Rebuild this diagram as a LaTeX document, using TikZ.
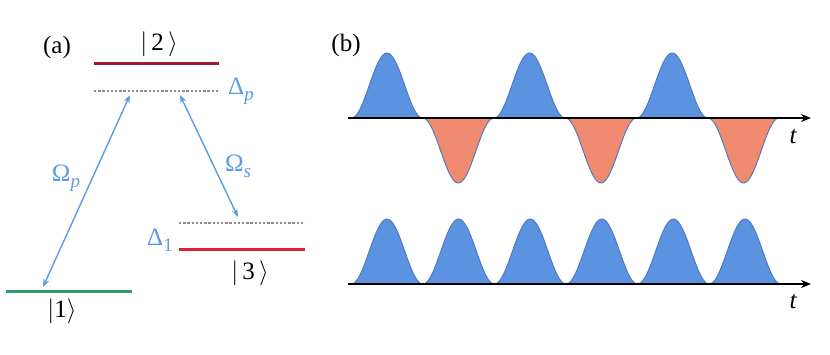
\documentclass[tikz,border=0pt]{standalone}
\usepackage{fix-cm}
\usepackage{fontspec}
\setmainfont{Liberation Serif}
\usetikzlibrary{arrows.meta}
\definecolor{lblue}{HTML}{5B9BE8}
\definecolor{pblue}{HTML}{5B93E0}
\definecolor{pedge}{HTML}{4A78C0}
\definecolor{porange}{HTML}{F08A70}
\definecolor{dred}{HTML}{A01830}
\definecolor{cred}{HTML}{E0203A}
\definecolor{lgreen}{HTML}{2E9E6B}
\definecolor{dotgray}{HTML}{8C8C8C}
\begin{document}
\begin{tikzpicture}[x=1pt,y=-1pt,
  every node/.style={font=\fontsize{25}{29}\selectfont, inner sep=0pt},
  level/.style={line width=3pt},
  virt/.style={dotgray, line width=2.8pt, dash pattern=on 2.4pt off 1.8pt},
  trans/.style={lblue, line width=1.4pt, {Stealth[length=8pt,width=6pt]}-{Stealth[length=8pt,width=6pt]}},
  bluetext/.style={text=lblue},
  axisline/.style={black, line width=1.8pt, -{Stealth[length=10pt,width=8pt]}},
  pulsepos/.style={fill=pblue, draw=pedge, line width=0.9pt},
  pulseneg/.style={fill=porange, draw=pedge, line width=0.9pt}]
\useasboundingbox (0,0) rectangle (830,354);

% ---------- panel (a) ----------
\node (la) at (57,47) {(a)};
\draw[level, dred] (94,63) coordinate (e2l) -- (219,63) coordinate (e2r);
\draw[virt] (94,91) coordinate (v2l) -- (220,91) coordinate (v2r);
\draw[virt] (179,223) coordinate (v3l) -- (305,223) coordinate (v3r);
\draw[level, cred] (179,249) coordinate (e3l) -- (305,249) coordinate (e3r);
\draw[level, lgreen] (6,291) coordinate (e1l) -- (132,291) coordinate (e1r);

\node (k2) at (159,44) {$\Bigl|$\,2\,$\Bigr\rangle$};
\node (k3) at (250,273) {$\Bigl|$\,3\,$\Bigr\rangle$};
\node (k1) at (62,311) {$\Bigl|$1$\Bigr\rangle$};

\node[bluetext] (dp) at (241,91) {Δ\raisebox{-6pt}{\fontsize{19}{19}\selectfont\itshape p}};
\node[bluetext] (d1) at (160,240) {Δ\raisebox{-6pt}{\fontsize{19}{19}\selectfont 1}};
\node[bluetext] (op) at (66,178) {Ω\raisebox{-6pt}{\fontsize{19}{19}\selectfont\itshape p}};
\node[bluetext] (os) at (238,166) {Ω\raisebox{-6pt}{\fontsize{19}{19}\selectfont\itshape s}};

\coordinate (a1) at (43,287);
\coordinate (a2) at (130,95);
\coordinate (b1) at (180,95);
\coordinate (b2) at (238,217);
\draw[trans] (a1) -- (a2);
\draw[trans] (b1) -- (b2);

% ---------- panel (b) ----------
\node (lb) at (346,45) {(b)};

% top row: alternating pulses
\foreach \c/\s in {387/1,458.3/-1,529.6/1,600.9/-1,672.2/1,743.5/-1}{
  \ifnum\s=1
    \filldraw[pulsepos] plot[domain=\c-35.6:\c+35.6, samples=50, smooth] (\x,{118-65*(0.5+0.5*cos(360*(\x-\c)/71.2))});
  \else
    \filldraw[pulseneg] plot[domain=\c-35.6:\c+35.6, samples=50, smooth] (\x,{118+65*(0.5+0.5*cos(360*(\x-\c)/71.2))});
  \fi
}
\coordinate (ax1s) at (348,118);
\coordinate (ax1e) at (811,118);
\draw[axisline] (ax1s) -- (ax1e);
\node (t1) at (793,137) {\itshape t};

% bottom row
\foreach \c in {387,458.6,530.2,601.8,673.4,745}{
  \filldraw[pulsepos] plot[domain=\c-35.8:\c+35.8, samples=50, smooth] (\x,{284-65*(0.5+0.5*cos(360*(\x-\c)/71.6))});
}
\coordinate (ax2s) at (348,284);
\coordinate (ax2e) at (811,284);
\draw[axisline] (ax2s) -- (ax2e);
\node (t2) at (793,302) {\itshape t};
\end{tikzpicture}
\end{document}
